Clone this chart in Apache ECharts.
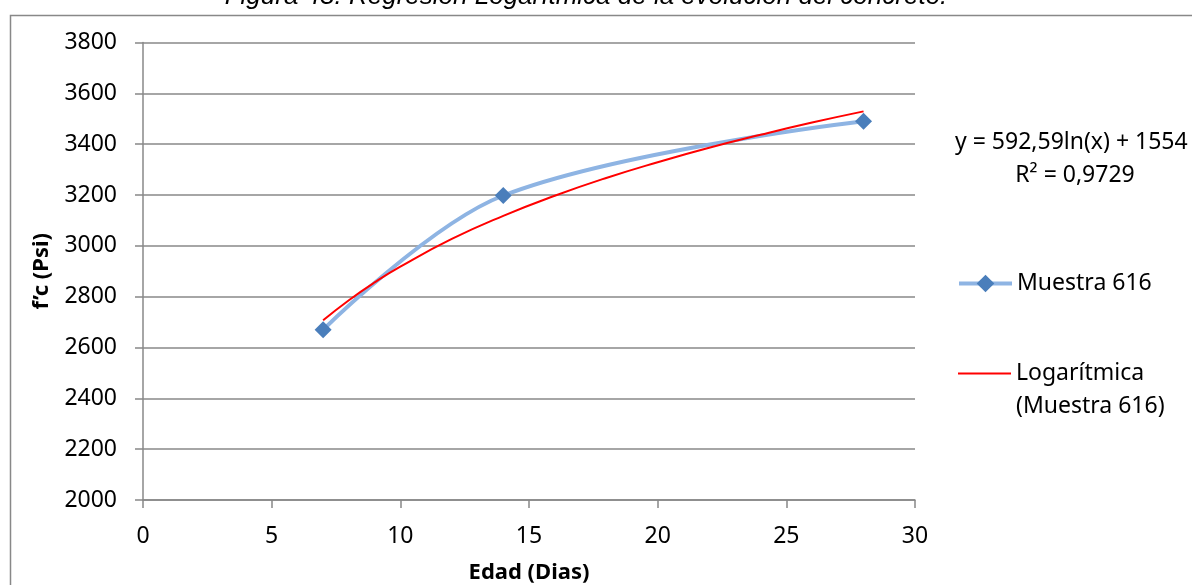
<!DOCTYPE html>
<html>
<head>
<meta charset="utf-8">
<script src="https://cdn.jsdelivr.net/npm/echarts@6/dist/echarts.min.js"></script>
<style>
html,body{margin:0;padding:0;background:#fff;}
#chart{width:1192px;height:585px;}
</style>
</head>
<body>
<div id="chart"></div>
<script>
// Data
var titleText = 'Figura 43. Regresión Logarítmica de la evolución del concreto.';
var xAxisTitle = 'Edad (Dias)';
var yAxisTitle = 'f\u2019c (Psi)';
var sampleName = 'Muestra 616';
var trendName = 'Logarítmica (Muestra 616)';
var sampleDays = [7, 14, 28];
var sampleValues = [2670, 3198, 3490];
var trendDays = [7, 8, 9, 10, 12, 14, 16, 18, 20, 22, 24, 26, 28];
var trendValues = [2707, 2786, 2856, 2918, 3027, 3118, 3197, 3267, 3329, 3386, 3437, 3485, 3529];
var equationLine = 'y = 592,59ln(x) + 1554';
var r2Line = 'R\u00b2 = 0,9729';
var xTicks = {min: 0, max: 30, interval: 5};
var yTicks = {min: 2000, max: 3800, interval: 200};

var FONT = 'Noto Sans';
var chart = echarts.init(document.getElementById('chart'), null, {renderer: 'canvas'});

function pairs(xs, ys) { return xs.map(function (x, i) { return [x, ys[i]]; }); }

var option = {
  animation: false,
  backgroundColor: '#ffffff',
  textStyle: {fontFamily: FONT},
  grid: {left: 143, right: 277, top: 42.5, bottom: 85, containLabel: false, outerBoundsMode: 'none'},
  xAxis: {
    type: 'value', min: xTicks.min, max: xTicks.max, interval: xTicks.interval,
    name: xAxisTitle, nameLocation: 'middle', nameGap: 62,
    nameTextStyle: {fontFamily: FONT, fontSize: 22, fontWeight: 'bold', color: '#000'},
    axisLine: {show: true, lineStyle: {color: '#888', width: 1.5}},
    axisTick: {show: true, inside: false, length: 8, lineStyle: {color: '#888', width: 1.5}},
    axisLabel: {fontFamily: FONT, fontSize: 23, color: '#000', margin: 25, formatter: function (v) { return String(v); }},
    splitLine: {show: false}
  },
  yAxis: {
    type: 'value', min: yTicks.min, max: yTicks.max, interval: yTicks.interval,
    name: yAxisTitle, nameLocation: 'middle', nameGap: 90, nameRotate: 90,
    nameTextStyle: {fontFamily: FONT, fontSize: 22, fontWeight: 'bold', color: '#000'},
    axisLine: {show: true, lineStyle: {color: '#888', width: 1.5}},
    axisTick: {show: true, inside: false, length: 8, lineStyle: {color: '#888', width: 1.5}},
    axisLabel: {fontFamily: FONT, fontSize: 23, color: '#000', margin: 26, formatter: function (v) { return String(v); }},
    splitLine: {show: true, lineStyle: {color: '#888', width: 1.5}}
  },
  legend: [
    {
      data: [{name: sampleName, lineStyle: {width: 4, color: '#8EB4E3'}}],
      left: 957, top: 267, orient: 'vertical', padding: 0,
      itemWidth: 53, itemHeight: 22, itemGap: 0,
      textStyle: {fontFamily: FONT, fontSize: 23, color: '#000', lineHeight: 33}
    },
    {
      data: [{name: trendName, itemStyle: {opacity: 0}, lineStyle: {width: 2, color: '#FF0000'}}],
      left: 957, top: 324, orient: 'vertical', padding: 0,
      itemWidth: 53, itemHeight: 22, itemGap: 0,
      formatter: function (n) { return '\n' + n.replace(' (', '\n('); },
      textStyle: {fontFamily: FONT, fontSize: 23, color: '#000', lineHeight: 33}
    }
  ],
  graphic: [
    {type: 'rect', left: 8, top: 13, silent: true,
     shape: {x: 0, y: 0, width: 1300, height: 700},
     style: {fill: 'none', stroke: '#888', lineWidth: 1.5}},
    {type: 'text', x: 586, y: -3, silent: true,
     style: {text: titleText, font: 'italic 26px "Liberation Sans"', fill: '#000', align: 'center', verticalAlign: 'middle'}},
    {type: 'text', x: 955, y: 142, silent: true,
     style: {text: equationLine, font: '23px "Noto Sans"', fill: '#000', align: 'left', verticalAlign: 'middle'}},
    {type: 'text', x: 1075, y: 175, silent: true,
     style: {text: r2Line, font: '23px "Noto Sans"', fill: '#000', align: 'center', verticalAlign: 'middle'}}
  ],
  series: [
    {
      name: sampleName, type: 'line', data: pairs(sampleDays, sampleValues),
      smooth: 0.35, symbol: 'diamond', symbolSize: 17,
      lineStyle: {color: '#8EB4E3', width: 4},
      itemStyle: {color: '#4A7EBB', borderColor: '#4A7EBB', borderWidth: 0},
      z: 3
    },
    {
      name: trendName, type: 'line', data: pairs(trendDays, trendValues),
      smooth: true, showSymbol: false, symbol: 'none',
      lineStyle: {color: '#FF0000', width: 2},
      itemStyle: {color: '#FF0000'},
      z: 4
    }
  ]
};
chart.setOption(option);
</script>
</body>
</html>
